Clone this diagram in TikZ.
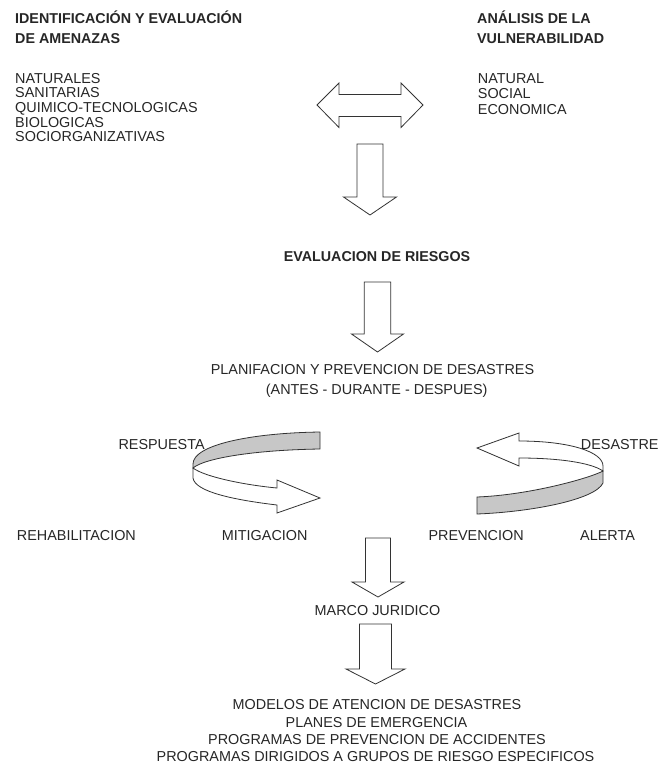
\documentclass[tikz,border=0pt]{standalone}
\usepackage{fontspec}
\setmainfont{Liberation Sans}
\begin{document}
\begin{tikzpicture}[x=1pt,y=-1pt,
  txt/.style={inner sep=0pt, font=\fontsize{14.4}{14.6}\selectfont, text=black!85},
  bld/.style={inner sep=0pt, font=\fontsize{14.3}{14.6}\selectfont\bfseries, text=black!85},
  blk/.style={draw=black!80, line width=0.8pt, fill=white, line join=miter},
  band/.style={blk, fill=black!22},
]
\useasboundingbox (0,0) rectangle (660,765);
\newcommand{\dnarrow}[6]{% cx, shaft half, top, back, head half, tip
  \path[blk] ({#1-#2},#3) -- ({#1+#2},#3) -- ({#1+#2},#4) -- ({#1+#5},#4) -- (#1,#6)
    -- ({#1-#5},#4) -- ({#1-#2},#4) -- cycle;}

% headings and lists
\node[bld, anchor=base west] (h1a) at (15,23.5) {IDENTIFICACIÓN Y EVALUACIÓN};
\node[bld, anchor=base west] (h1b) at (15,43.3) {DE AMENAZAS};
\node[txt, anchor=base west] (l1) at (15,83.3) {NATURALES};
\node[txt, anchor=base west] (l2) at (15,97.9) {SANITARIAS};
\node[txt, anchor=base west] (l3) at (15,112.5) {QUIMICO-TECNOLOGICAS};
\node[txt, anchor=base west] (l4) at (15,127.1) {BIOLOGICAS};
\node[txt, anchor=base west] (l5) at (15,141.7) {SOCIORGANIZATIVAS};

\node[bld, anchor=base west] (h2a) at (477,23.5) {ANÁLISIS DE LA};
\node[bld, anchor=base west] (h2b) at (477,43.3) {VULNERABILIDAD};
\node[txt, anchor=base west] (r1) at (477.7,83.5) {NATURAL};
\node[txt, anchor=base west] (r2) at (477.7,99) {SOCIAL};
\node[txt, anchor=base west] (r3) at (477.7,114.5) {ECONOMICA};

% double arrow
\path[blk] (317,105) -- (339,83) -- (339,94.5) -- (401,94.5) -- (401,83) -- (423,105)
  -- (401,127.5) -- (401,116.5) -- (339,116.5) -- (339,127.5) -- cycle;

\dnarrow{370}{13}{144}{197}{26.5}{215}
\node[bld, anchor=base] (ev) at (377,261) {EVALUACION DE RIESGOS};
\dnarrow{377.5}{13.3}{282}{334}{26}{352}
\node[txt, anchor=base] (pl1) at (372.5,374) {PLANIFACION Y PREVENCION DE DESASTRES};
\node[txt, anchor=base] (pl2) at (376.7,394) {(ANTES - DURANTE - DESPUES)};

% left curved arrow
\path[band] (320,432) .. controls (250,433) and (193,445) .. (193,464) -- (193,468)
  .. controls (205,458) and (255,450) .. (320,449) -- cycle;
\path[blk] (193,468) .. controls (205,477) and (245,485) .. (277,488) -- (277,480)
  -- (320,498) -- (277,513) -- (277,505) .. controls (235,500) and (195,492) .. (193,478) -- cycle;

% right curved arrow
\path[band] (477,497) .. controls (530,495) and (590,478) .. (603,471) -- (603,483)
  .. controls (595,500) and (530,512) .. (477,514) -- cycle;
\path[blk] (603,471) .. controls (590,462) and (555,458) .. (519,458) -- (519,466)
  -- (477,448) -- (519,433) -- (519,441) .. controls (570,441) and (603,452) .. (603,466) -- cycle;

\node[txt, anchor=base west] (resp) at (118.3,449) {RESPUESTA};
\node[txt, anchor=base west] (des) at (580.7,449) {DESASTRE};
\node[txt, anchor=base west] (reh) at (16.7,540.5) {REHABILITACION};
\node[txt, anchor=base west] (mit) at (221.7,540.5) {MITIGACION};
\node[txt, anchor=base west] (prev) at (428.3,540.5) {PREVENCION};
\node[txt, anchor=base west] (ale) at (580,540.5) {ALERTA};

\dnarrow{378}{12.5}{538}{582}{26}{597}
\node[txt, anchor=base] (mj) at (377.5,615.5) {MARCO JURIDICO};
\dnarrow{375.5}{16}{624}{669}{29.5}{684}

\node[txt, anchor=base] (b1) at (377,709) {MODELOS DE ATENCION DE DESASTRES};
\node[txt, anchor=base] (b2) at (376.5,727.3) {PLANES DE EMERGENCIA};
\node[txt, anchor=base] (b3) at (377,744.3) {PROGRAMAS DE PREVENCION DE ACCIDENTES};
\node[txt, anchor=base] (b4) at (375.5,761.5) {PROGRAMAS DIRIGIDOS A GRUPOS DE RIESGO ESPECIFICOS};
\end{tikzpicture}
\end{document}
